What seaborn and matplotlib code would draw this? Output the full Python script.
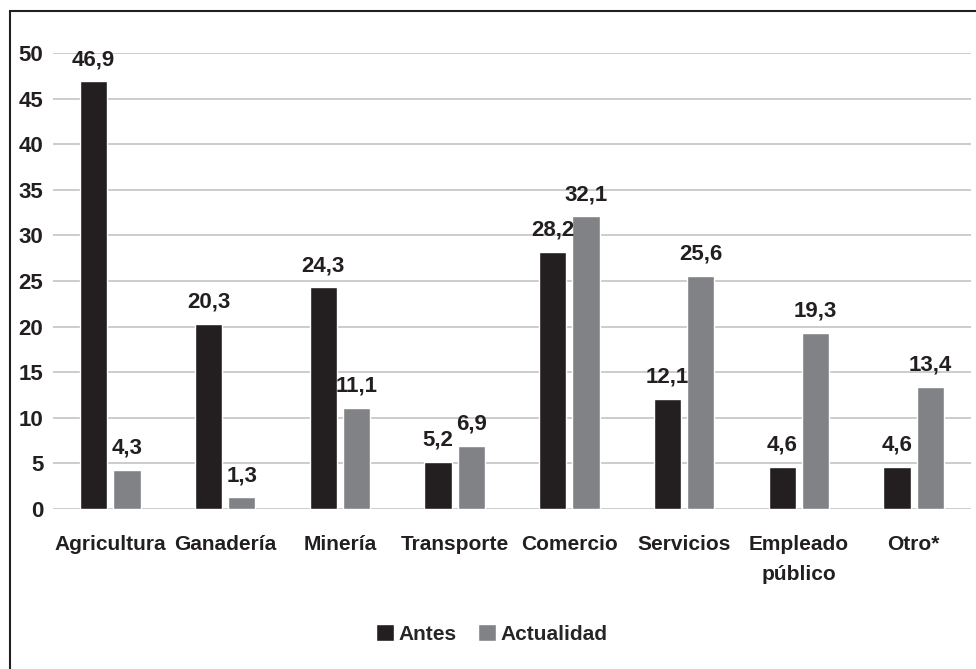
import pandas as pd
import seaborn as sns
import matplotlib.pyplot as plt
from matplotlib.patches import Rectangle

# Data
categories = ["Agricultura", "Ganadería", "Minería", "Transporte", "Comercio",
              "Servicios", "Empleado\npúblico", "Otro*"]
antes = [46.9, 20.3, 24.3, 5.2, 28.2, 12.1, 4.6, 4.6]
actualidad = [4.3, 1.3, 11.1, 6.9, 32.1, 25.6, 19.3, 13.4]
series_names = ["Antes", "Actualidad"]
y_ticks = [0, 5, 10, 15, 20, 25, 30, 35, 40, 45, 50]

colors = {"Antes": "#231f20", "Actualidad": "#818286"}

df = pd.DataFrame({
    "categoria": categories * 2,
    "serie": [series_names[0]] * len(categories) + [series_names[1]] * len(categories),
    "valor": antes + actualidad,
})

sns.set_style("white")
plt.rcParams["font.family"] = ["Liberation Sans", "DejaVu Sans"]
plt.rcParams["font.weight"] = "bold"

fig = plt.figure(figsize=(9.76, 6.69), dpi=100)
ax = fig.add_axes([0.0543, 0.2392, 0.9406, 0.6816])

sns.barplot(
    data=df, x="categoria", y="valor", hue="serie",
    order=categories, hue_order=series_names, palette=colors,
    width=0.58, gap=0.18, saturation=1, ax=ax, legend=True,
)

# value labels with decimal comma
for cont, vals in zip(ax.containers, [antes, actualidad]):
    ax.bar_label(cont, labels=[f"{v:.1f}".replace(".", ",") for v in vals],
                 padding=8, fontsize=16, fontweight="bold", color="#231f20",
                 clip_on=False)

ax.set_ylim(0, 50)
ax.set_yticks(y_ticks)
ax.set_xlim(-0.5, len(categories) - 0.5)
ax.set_xlabel("")
ax.set_ylabel("")
ax.grid(axis="y", color="#c8c8c8", linewidth=1.3)
ax.set_axisbelow(True)
for s in ax.spines.values():
    s.set_visible(False)
ax.tick_params(axis="x", length=0, pad=19, labelsize=15, colors="#231f20")
ax.tick_params(axis="y", length=0, pad=7, labelsize=16, colors="#231f20")
for lab in ax.get_xticklabels():
    lab.set_fontweight("bold")
    lab.set_linespacing(1.7)
    lab.set_multialignment("center")
for lab in ax.get_yticklabels():
    lab.set_fontweight("bold")

# legend at the bottom
handles, labels = ax.get_legend_handles_labels()
ax.get_legend().remove()
fig.legend(handles, labels, loc="center", bbox_to_anchor=(0.504, 0.052),
           ncol=2, frameon=False, handlelength=0.85,
           handleheight=0.85, handletextpad=0.25, columnspacing=1.0,
           prop={"weight": "bold", "size": 15})

# outer frame
fig.add_artist(Rectangle((0.0102, -0.02), 1.0, 1.0036, transform=fig.transFigure,
                         fill=False, edgecolor="#231f20", linewidth=1.5))

fig.savefig("out.png", dpi=100)
